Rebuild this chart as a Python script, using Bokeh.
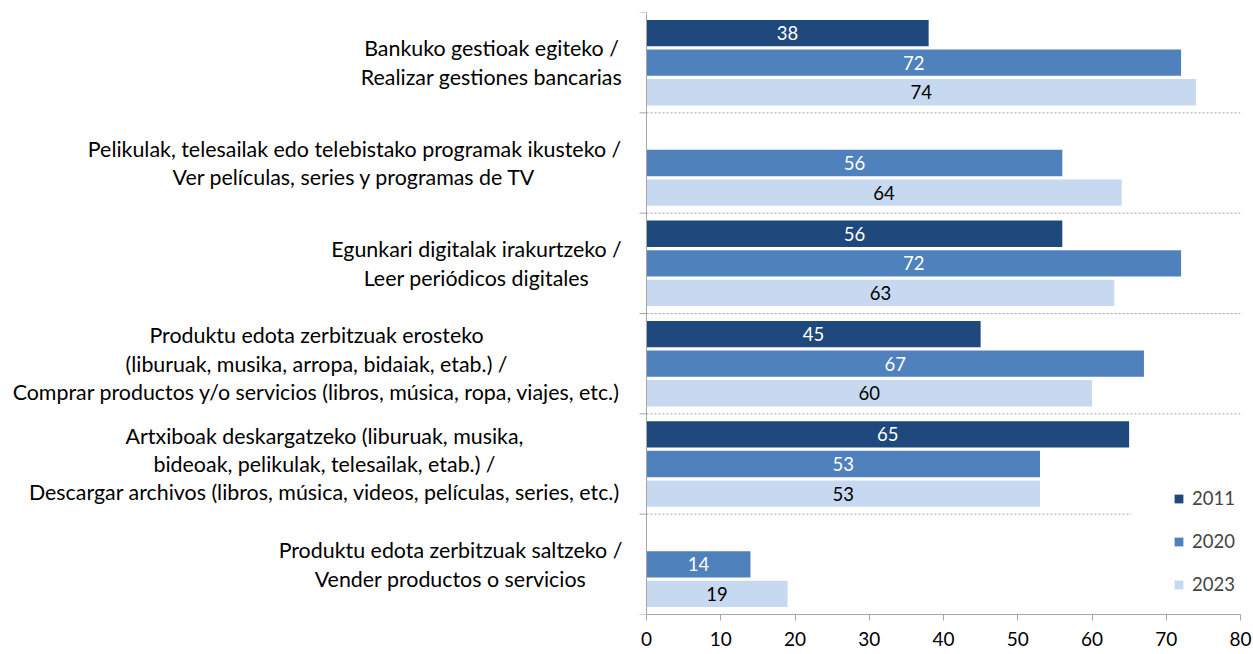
from bokeh.plotting import figure
from bokeh.models import Range1d, FixedTicker, Legend, LegendItem, ColumnDataSource, Span
from bokeh.core.properties import value
from bokeh.embed import file_html
from bokeh.resources import INLINE

categories = [
    "Bankuko gestioak egiteko /\nRealizar gestiones bancarias",
    "Pelikulak, telesailak edo telebistako programak ikusteko /\nVer películas, series y programas de TV",
    "Egunkari digitalak irakurtzeko /\nLeer periódicos digitales",
    "Produktu edota zerbitzuak erosteko\n(liburuak, musika, arropa, bidaiak, etab.) /\nComprar productos y/o servicios (libros, música, ropa, viajes, etc.)",
    "Artxiboak deskargatzeko (liburuak, musika,\nbideoak, pelikulak, telesailak, etab.) /\nDescargar archivos (libros, música, videos, películas, series, etc.)",
    "Produktu edota zerbitzuak saltzeko /\nVender productos o servicios",
]
years = ["2011", "2020", "2023"]
v2011 = [38, None, 56, 45, 65, None]
v2020 = [72, 56, 72, 67, 53, 14]
v2023 = [74, 64, 63, 60, 53, 19]
x_ticks = [0, 10, 20, 30, 40, 50, 60, 70, 80]

# layout (pixels)
AXIS0_PX = 646.0          # pixel position of value 0
PX_PER_UNIT = 7.425       # pixels per percentage point
label_center_px = [491, 354, 476, 316, 324, 450]
LINE_STEP = 0.284         # label line spacing in category units

colors = ["#1f497d", "#4f81bd", "#c6d9f1"]
label_colors = ["white", "white", "black"]
offsets = [-0.295, 0.0, 0.295]
FONT = "Lato"
CAT_FS = "21.4px"
VAL_FS = "18.5px"
TICK_FS = "19px"
GRAY = "#a6a6a6"

x_left = -AXIS0_PX / PX_PER_UNIT
p = figure(width=1253, height=654, output_backend="svg", toolbar_location=None,
           x_range=Range1d(x_left, 80), y_range=Range1d(6, 0),
           min_border_left=0, min_border_right=13, min_border_top=12, min_border_bottom=40)
p.outline_line_color = None
p.xgrid.visible = False
p.ygrid.visible = False
p.yaxis.visible = False

p.xaxis.ticker = FixedTicker(ticks=x_ticks)
p.xaxis.bounds = (0, 80)
p.xaxis.axis_line_color = GRAY
p.xaxis.major_tick_line_color = GRAY
p.xaxis.major_tick_out = 6
p.xaxis.major_tick_in = 0
p.xaxis.minor_tick_line_color = None
p.xaxis.major_label_text_font = FONT
p.xaxis.major_label_text_font_size = TICK_FS
p.xaxis.major_label_text_color = "black"
p.xaxis.major_label_standoff = 11

# value axis line at 0
p.add_layout(Span(location=0, dimension="height", line_color=GRAY, line_width=1))

n = len(categories)
tick_len = 7 / PX_PER_UNIT
bounds = list(range(n + 1))
p.segment(x0=[-tick_len] * len(bounds), y0=bounds, x1=[0] * len(bounds), y1=bounds,
          line_color=GRAY, line_width=1)

# dotted separators between categories
sep_y = [1, 2, 3, 4, 5]
sep_end = [80, 80, 80, 80, 65.3]
p.segment(x0=[0] * len(sep_y), y0=sep_y, x1=sep_end, y1=sep_y,
          line_color=GRAY, line_width=1, line_dash="2 2")

renderers = []
for k, vals in enumerate([v2011, v2020, v2023]):
    ys = [i + 0.5 + offsets[k] for i in range(n)]
    right = [float("nan") if v is None else v for v in vals]
    src = ColumnDataSource(dict(y=ys, right=right))
    r = p.hbar(y="y", left=0, right="right", height=0.262, source=src,
               fill_color=colors[k], line_color=None)
    renderers.append(r)
    ly = [ys[i] for i, v in enumerate(vals) if v is not None]
    lx = [v / 2 for v in vals if v is not None]
    lt = [str(v) for v in vals if v is not None]
    p.text(x=lx, y=ly, text=lt, text_align="center", text_baseline="middle",
           text_font=value(FONT), text_font_size=VAL_FS, text_color=label_colors[k])

# category labels: each line centred on its block centre
cx, cy, ct = [], [], []
for i, cat in enumerate(categories):
    lines = cat.split("\n")
    m = len(lines)
    for j, line in enumerate(lines):
        cx.append((label_center_px[i] - AXIS0_PX) / PX_PER_UNIT)
        cy.append(i + 0.5 + (j - (m - 1) / 2) * LINE_STEP)
        ct.append(line)
p.text(x=cx, y=cy, text=ct, text_align="center", text_baseline="middle",
       text_font=value(FONT), text_font_size=CAT_FS, text_color="black")

legend = Legend(items=[LegendItem(label=years[k], renderers=[renderers[k]]) for k in range(3)],
                location=(1173, 19), orientation="vertical",
                glyph_width=11, glyph_height=11, label_height=22, spacing=21,
                padding=0, margin=0, label_standoff=8,
                label_text_font=FONT, label_text_font_size="18.5px",
                border_line_alpha=0, background_fill_alpha=0)
p.add_layout(legend, "center")

open("out.html", "w").write(file_html(p, INLINE))
